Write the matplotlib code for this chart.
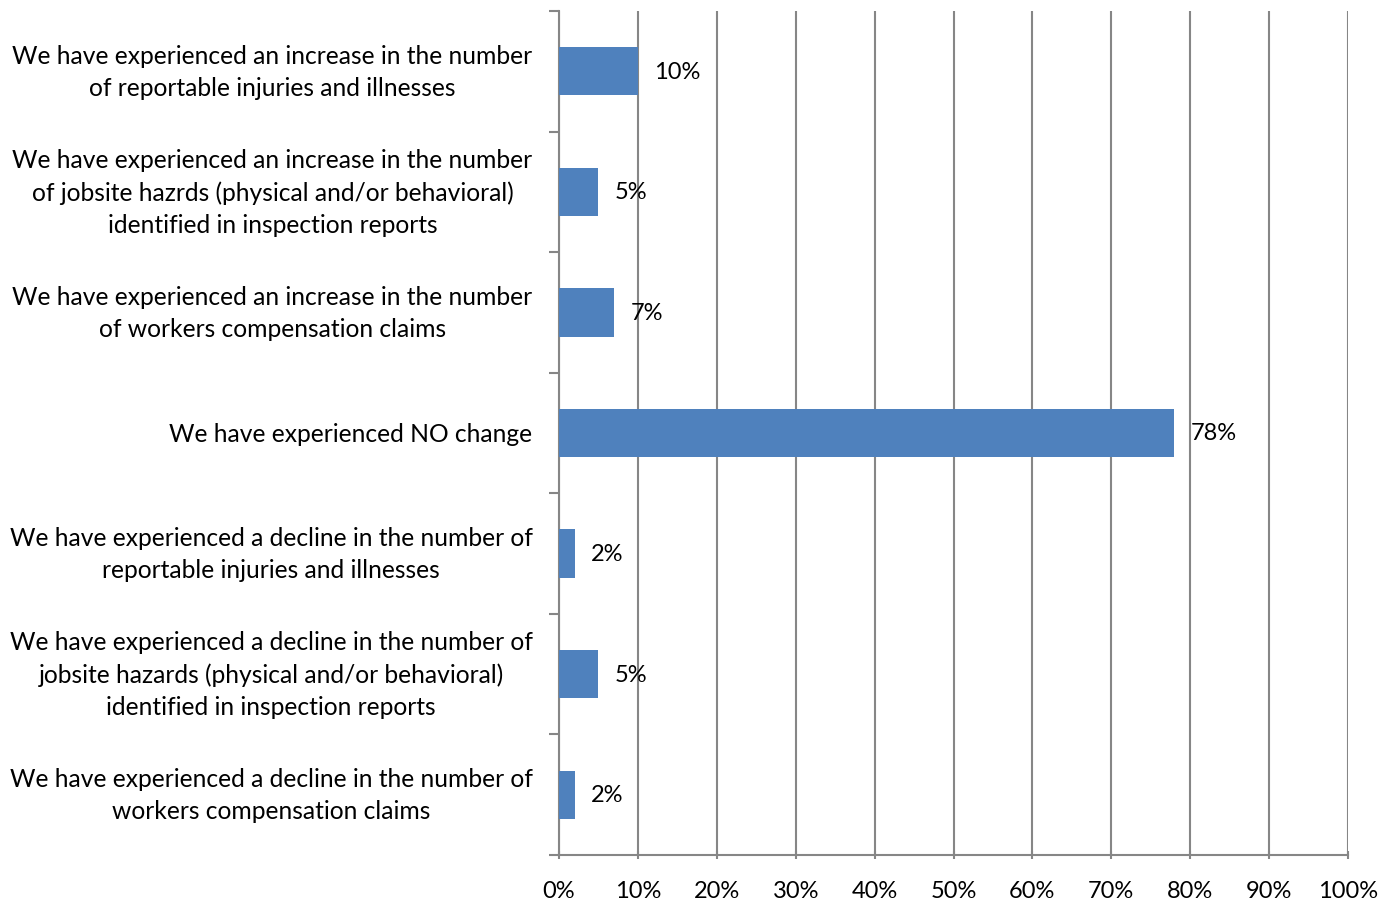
import numpy as np
import matplotlib.pyplot as plt

categories = [
    'We have experienced an increase in the number\nof reportable injuries and illnesses',
    'We have experienced an increase in the number\nof jobsite hazrds (physical and/or behavioral)\nidentified in inspection reports',
    'We have experienced an increase in the number\nof workers compensation claims',
    'We have experienced NO change',
    'We have experienced a decline in the number of\nreportable injuries and illnesses',
    'We have experienced a decline in the number of\njobsite hazards (physical and/or behavioral)\nidentified in inspection reports',
    'We have experienced a decline in the number of\nworkers compensation claims',
]
values = [10, 5, 7, 78, 2, 5, 2]
x_ticks = [0, 10, 20, 30, 40, 50, 60, 70, 80, 90, 100]

plt.rcParams['font.family'] = ['Lato', 'DejaVu Sans']
fs = 17.7
grey = '#868686'

fig = plt.figure(figsize=(13.94, 9.03), dpi=100)
ax = fig.add_axes([559 / 1394, 1 - 856 / 903, (1348 - 559) / 1394, (856 - 12) / 903])

y = np.arange(len(categories))
ax.barh(y, values, height=0.4, color='#4F81BD', zorder=3)

for yi, v in zip(y, values):
    ax.text(v + 2.1, yi, f'{v}%', va='center', ha='left', fontsize=17, zorder=4)

ax.set_xlim(0, 100)
ax.set_ylim(len(categories) - 0.5, -0.5)

ax.set_xticks(x_ticks)
ax.set_xticklabels([f'{t}%' for t in x_ticks], fontsize=17)
ax.xaxis.grid(True, color=grey, linewidth=1.5, zorder=0)
ax.tick_params(axis='x', length=6, width=1.5, color=grey, direction='inout', pad=15)

ax.set_yticks(np.arange(-0.5, len(categories), 1.0))
ax.set_yticklabels([])
ax.tick_params(axis='y', which='major', length=7, width=1.5, color=grey, direction='out')
ax.set_yticks(y, minor=True)
ax.set_yticklabels(categories, minor=True, fontsize=fs, multialignment='center',
                   linespacing=1.48, va='center')
ax.tick_params(axis='y', which='minor', length=0, pad=19)

for s in ['top', 'right']:
    ax.spines[s].set_visible(False)
for s in ['left', 'bottom']:
    ax.spines[s].set_color(grey)
    ax.spines[s].set_linewidth(1.5)

fig.savefig('out.png', dpi=100)
